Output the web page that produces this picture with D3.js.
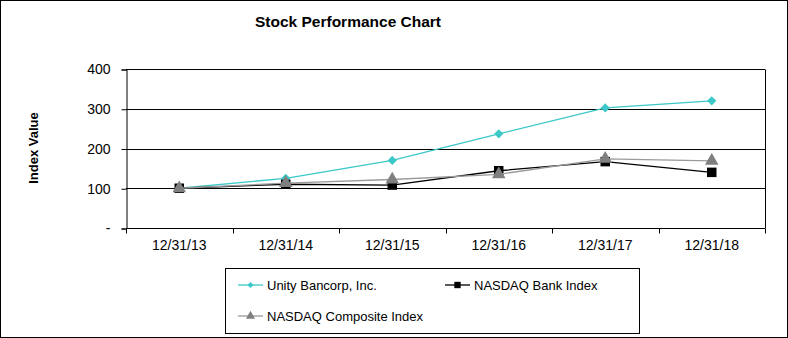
<!DOCTYPE html>
<html>
<head>
<meta charset="utf-8">
<script src="https://cdn.jsdelivr.net/npm/d3@7"></script>
<style>
  body { margin: 0; background: #fff; }
  svg { font-family: "Liberation Sans", Arial, sans-serif; }
</style>
</head>
<body>
<div id="chart"></div>
<script>
// chart data
const dates = ["12/31/13", "12/31/14", "12/31/15", "12/31/16", "12/31/17", "12/31/18"];
const unity = [100, 125, 170, 237, 302, 320];
const bank = [100, 110, 108, 144, 167, 140];
const composite = [100, 113, 122, 135, 174, 169];
const yTicks = [0, 100, 200, 300, 400];

const w = 788;
const h = 338;
const plotLeft = 126, plotRight = 765, plotTop = 69, plotBottom = 228;

const svg = d3.select("#chart")
              .append("svg")
              .attr("width", w)
              .attr("height", h);

// outer border
svg.append("rect")
   .attr("x", 0.5).attr("y", 0.5)
   .attr("width", w - 1).attr("height", h - 1)
   .attr("fill", "#fff")
   .attr("stroke", "#000");

// title
svg.append("text")
   .text("Stock Performance Chart")
   .attr("x", 348).attr("y", 27)
   .attr("text-anchor", "middle")
   .style("font-size", "15.5px")
   .style("font-weight", "bold");

const xScale = d3.scaleBand().domain(dates).range([plotLeft, plotRight]);
const yScale = d3.scaleLinear().domain([0, 400]).range([plotBottom, plotTop]);

// gridlines
svg.append("g")
   .selectAll("line")
   .data(yTicks.filter(d => d > 0))
   .enter()
   .append("line")
   .attr("x1", plotLeft).attr("x2", plotRight)
   .attr("y1", d => Math.round(yScale(d)) + 0.5)
   .attr("y2", d => Math.round(yScale(d)) + 0.5)
   .attr("stroke", "#000");

// right border of plot
svg.append("line")
   .attr("x1", plotRight + 0.5).attr("x2", plotRight + 0.5)
   .attr("y1", plotTop + 0.5).attr("y2", plotBottom + 0.5)
   .attr("stroke", "#000");

// y axis
const yAxis = d3.axisLeft(yScale)
                .tickValues(yTicks)
                .tickSize(5)
                .tickPadding(11)
                .tickFormat(d => d === 0 ? "-" : d);
svg.append("g")
   .attr("transform", "translate(" + (plotLeft + 0.5) + ",0.5)")
   .call(yAxis)
   .call(g => g.selectAll("text").style("font-size", "14px").attr("fill", "#000"))
   .call(g => g.selectAll("line, path").attr("stroke", "#000"));

// x axis
const xAxis = d3.axisBottom(xScale).tickSize(0).tickPadding(12);
const xg = svg.append("g")
   .attr("transform", "translate(0," + (plotBottom + 0.5) + ")")
   .call(xAxis)
   .call(g => g.select(".domain").attr("d", "M" + plotLeft + ",0H" + plotRight).attr("stroke", "#000"))
   .call(g => g.selectAll("text").style("font-size", "14px").attr("fill", "#000"));
// tick marks between categories
xg.selectAll(".sep")
  .data(dates.concat(["end"]))
  .enter()
  .append("line")
  .attr("x1", (d, i) => Math.round(plotLeft + i * xScale.step()) + 0.5)
  .attr("x2", (d, i) => Math.round(plotLeft + i * xScale.step()) + 0.5)
  .attr("y1", 0).attr("y2", 5)
  .attr("stroke", "#000");

// y label
svg.append("text")
   .text("Index Value")
   .attr("transform", "translate(38,148) rotate(-90)")
   .attr("text-anchor", "middle")
   .style("font-size", "13px")
   .style("font-weight", "bold");

const cx = d => xScale(d) + xScale.bandwidth() / 2;

// diamond = square turned 45 degrees
const series = [
  { name: "Unity Bancorp, Inc.", values: unity, line: "#3cc8c8", fill: "#3cc8c8", shape: d3.symbolSquare, size: 42, rot: 45 },
  { name: "NASDAQ Bank Index", values: bank, line: "#000", fill: "#000", shape: d3.symbolSquare, size: 90, rot: 0 },
  { name: "NASDAQ Composite Index", values: composite, line: "#9a9a9a", fill: "#7f7f7f", shape: d3.symbolTriangle, size: 80, rot: 0 }
];

const line = d3.line().x((d, i) => cx(dates[i])).y(d => yScale(d));

series.forEach(s => {
  svg.append("path")
     .attr("d", line(s.values))
     .attr("fill", "none")
     .attr("stroke", s.line)
     .attr("stroke-width", 1.3);
  svg.append("g")
     .selectAll("path")
     .data(s.values)
     .enter()
     .append("path")
     .attr("d", d3.symbol().type(s.shape).size(s.size))
     .attr("transform", (d, i) => "translate(" + cx(dates[i]) + "," + yScale(d) + ") rotate(" + s.rot + ")")
     .attr("fill", s.fill);
});

// legend
const legend = svg.append("g").attr("id", "legend");
legend.append("rect")
      .attr("x", 225.5).attr("y", 268.5)
      .attr("width", 414).attr("height", 65)
      .attr("fill", "#fff")
      .attr("stroke", "#000");

const legendPos = [[238, 285], [445, 285], [238, 316]];
series.forEach((s, i) => {
  const [lx, ly] = legendPos[i];
  legend.append("line")
        .attr("x1", lx).attr("x2", lx + 25)
        .attr("y1", ly).attr("y2", ly)
        .attr("stroke", s.line)
        .attr("stroke-width", 1.3);
  legend.append("path")
        .attr("d", d3.symbol().type(s.shape).size(s.size * 0.45))
        .attr("transform", "translate(" + (lx + 12.5) + "," + ly + ") rotate(" + s.rot + ")")
        .attr("fill", s.fill);
  legend.append("text")
        .text(s.name)
        .attr("x", lx + 29)
        .attr("y", ly + 5)
        .style("font-size", "13px");
});
</script>
</body>
</html>
